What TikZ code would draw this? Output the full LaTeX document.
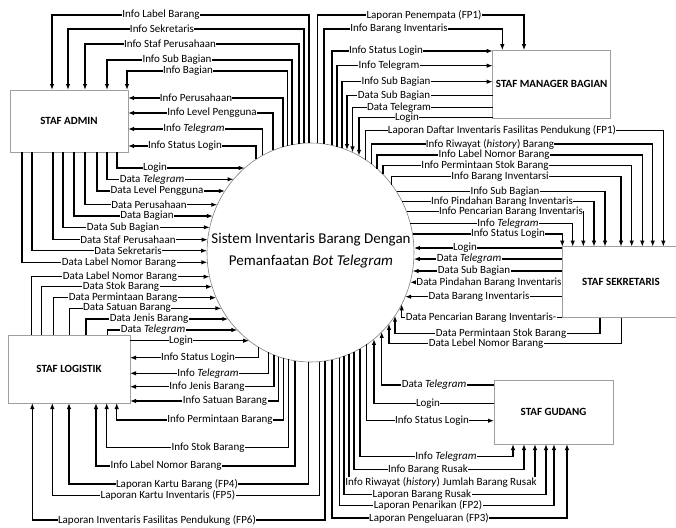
\documentclass[tikz,border=0pt]{standalone}
\usepackage{fontspec}
\setmainfont{Carlito}
\usetikzlibrary{arrows.meta,shapes.geometric}
\newcommand\lblfont{\fontsize{11}{12}\selectfont}
\newcommand\boxfont{\fontsize{11}{12}\selectfont\bfseries}
\newcommand\ttlfont{\fontsize{15}{22}\selectfont}
\begin{document}
\begin{tikzpicture}[x=1pt,y=-1pt,
  declare function={
    eyt(\x)=252.5-109.5*sqrt(1-((\x-310.5)/103.5)^2);
    eyb(\x)=252.5+109.5*sqrt(1-((\x-310.5)/103.5)^2);
    exl(\y)=310.5-103.5*sqrt(1-((\y-252.5)/109.5)^2);
    exr(\y)=310.5+103.5*sqrt(1-((\y-252.5)/109.5)^2);
  },
  ln/.style={line width=1.3pt,draw=black},
  arr/.style={ln,-{Latex[length=6pt,width=4.5pt]}},
  lbl/.style={fill=white,inner sep=0.4pt,font=\lblfont},
  box/.style={draw=gray!75,line width=0.7pt,rectangle,inner sep=0pt,outer sep=0pt,font=\boxfont,fill=white},
]
\useasboundingbox (0,0) rectangle (676,527);
\fill[white] (0,0) rectangle (676,527);

% process
\node[ellipse,draw=gray,line width=0.6pt,minimum width=207pt,minimum height=219pt,inner sep=0pt] (sys) at (310.5,252.5) {};
\node[align=center,font=\ttlfont] (title) at (311,251) {Sistem Inventaris Barang Dengan\\Pemanfaatan \textit{Bot Telegram}};

% external entities
\node[box,minimum width=118pt,minimum height=62pt] (admin) at (69,121) {STAF ADMIN};
\node[box,minimum width=122pt,minimum height=68pt] (logistik) at (69,369) {STAF LOGISTIK};
\node[box,minimum width=118pt,minimum height=68pt] (manager) at (551.7,84.2) {STAF MANAGER BAGIAN};
\node[box,minimum width=118pt,minimum height=71pt] (sekretaris) at (621,282.2) {STAF SEKRETARIS};
\node[box,minimum width=119pt,minimum height=64pt] (gudang) at (553.5,412) {STAF GUDANG};

% ---------- STAF ADMIN ----------
\draw[arr] (309,{eyt(309)}) |- (52,15) -- (52,0 |- admin.north) node[lbl] at (161,15) {Info Label Barang};
\draw[arr] (304,{eyt(304)}) |- (68,29) -- (68,0 |- admin.north) node[lbl] at (162,29) {Info Sekretaris};
\draw[arr] (299,{eyt(299)}) |- (85,44) -- (85,0 |- admin.north) node[lbl] at (170,44) {Info Staf Perusahaan};
\draw[arr] (292,{eyt(292)}) |- (107,60) -- (107,0 |- admin.north) node[lbl] at (177,60) {Info Sub Bagian};
\draw[arr] (287.5,{eyt(287.5)}) |- (127,71) -- (127,0 |- admin.north) node[lbl] at (188,71) {Info Bagian};

\draw[arr] (283,{eyt(283)}) |- (admin.east |- 0,98) node[lbl] at (196,98) {Info Perusahaan};
\draw[arr] (273,{eyt(273)}) |- (admin.east |- 0,113) node[lbl] at (212,113) {Info Level Pengguna};
\draw[arr] (262.5,{eyt(262.5)}) |- (admin.east |- 0,129) node[lbl] at (194,129) {Info \textit{Telegram}};
\draw[arr] (256,{eyt(256)}) |- (admin.east |- 0,146) node[lbl] at (185,146) {Info Status Login};

\draw[arr] (117,0 |- admin.south) |- ({exl(168)},168) node[lbl] at (155,168) {Login};
\draw[arr] (107,0 |- admin.south) |- ({exl(179.3)},179.3) node[lbl] at (152,179.3) {Data \textit{Telegram}};
\draw[arr] (97,0 |- admin.south) |- ({exl(191)},191) node[lbl] at (157,191) {Data Level Pengguna};
\draw[arr] (85,0 |- admin.south) |- ({exl(204.7)},204.7) node[lbl] at (149,204.7) {Data Perusahaan};
\draw[arr] (74,0 |- admin.south) |- ({exl(216)},216) node[lbl] at (147,216) {Data Bagian};
\draw[arr] (63,0 |- admin.south) |- ({exl(227.3)},227.3) node[lbl] at (123,227.3) {Data Sub Bagian};
\draw[arr] (53,0 |- admin.south) |- ({exl(239.7)},239.7) node[lbl] at (128,239.7) {Data Staf Perusahaan};
\draw[arr] (32,0 |- admin.south) |- ({exl(250.7)},250.7) node[lbl] at (128,250.7) {Data Sekretaris};
\draw[arr] (22,0 |- admin.south) |- ({exl(262.3)},262.3) node[lbl] at (119,262.3) {Data Label Nomor Barang};

% ---------- STAF LOGISTIK ----------
\draw[arr] (31.7,0 |- logistik.north) |- ({exl(276.7)},276.7) node[lbl] at (120,276.7) {Data Label Nomor Barang};
\draw[arr] (41.7,0 |- logistik.north) |- ({exl(286.7)},286.7) node[lbl] at (121,286.7) {Data Stok Barang};
\draw[arr] (53.3,0 |- logistik.north) |- ({exl(297.7)},297.7) node[lbl] at (123,297.7) {Data Permintaan Barang};
\draw[arr] (69.3,0 |- logistik.north) |- ({exl(308.3)},308.3) node[lbl] at (127,308.3) {Data Satuan Barang};
\draw[arr] (86,0 |- logistik.north) |- ({exl(319)},319) node[lbl] at (149,319) {Data Jenis Barang};
\draw[arr] (107.3,0 |- logistik.north) |- ({exl(330)},330) node[lbl] at (153,330) {Data \textit{Telegram}};
\draw[arr] (logistik.east |- 0,340.7) -- ({exl(340.7)},340.7) node[lbl] at (181,340.7) {Login};

\draw[arr] (258.3,{eyb(258.3)}) |- (logistik.east |- 0,357.7) node[lbl] at (198,357.7) {Info Status Login};
\draw[arr] (268.3,{eyb(268.3)}) |- (logistik.east |- 0,373.3) node[lbl] at (208,373.3) {Info \textit{Telegram}};
\draw[arr] (274,{eyb(274)}) |- (logistik.east |- 0,386.7) node[lbl] at (207,386.7) {Info Jenis Barang};
\draw[arr] (278.3,{eyb(278.3)}) |- (logistik.east |- 0,401) node[lbl] at (225,401) {Info Satuan Barang};

\draw[arr] (283.3,{eyb(283.3)}) |- (116.7,420) -- (116.7,0 |- logistik.south) node[lbl] at (220,420) {Info Permintaan Barang};
\draw[arr] (288.3,{eyb(288.3)}) |- (106.7,447.3) -- (106.7,0 |- logistik.south) node[lbl] at (208,447.3) {Info Stok Barang};
\draw[arr] (295,{eyb(295)}) |- (96,466) -- (96,0 |- logistik.south) node[lbl] at (166,466) {Info Label Nomor Barang};
\draw[arr] (308.3,{eyb(308.3)}) |- (69,484) -- (69,0 |- logistik.south) node[lbl] at (177,484) {Laporan Kartu Barang (FP4)};
\draw[arr] (319.5,{eyb(319.5)}) |- (52.3,495.7) -- (52.3,0 |- logistik.south) node[lbl] at (168,495.7) {Laporan Kartu Inventaris (FP5)};
\draw[arr] (325,{eyb(325)}) |- (32.3,520) -- (32.3,0 |- logistik.south) node[lbl] at (157,520) {Laporan Inventaris Fasilitas Pendukung (FP6)};

% ---------- STAF MANAGER BAGIAN ----------
\draw[arr] (317.3,{eyt(317.3)}) |- (524,15) -- (524,0 |- manager.north) node[lbl] at (424,15) {Laporan Penempata (FP1)};
\draw[arr] (324,{eyt(324)}) |- (502.3,29) -- (502.3,0 |- manager.north) node[lbl] at (399,29) {Info Barang Inventaris};
\draw[arr] (332,{eyt(332)}) |- (manager.west |- 0,51) node[lbl] at (386,51) {Info Status Login};
\draw[arr] (337,{eyt(337)}) |- (manager.west |- 0,65.7) node[lbl] at (389,65.7) {Info Telegram};
\draw[arr] (342,{eyt(342)}) |- (manager.west |- 0,81.7) node[lbl] at (396,81.7) {Info Sub Bagian};
\draw[arr] (manager.west |- 0,95.7) -| (347,{eyt(347)}) node[lbl] at (394,95.7) {Data Sub Bagian};
\draw[arr] (manager.west |- 0,107.5) -| (352.5,{eyt(352.5)}) node[lbl] at (399,107.5) {Data Telegram};
\draw[arr] (manager.west |- 0,117.8) -| (359,{eyt(359)}) node[lbl] at (407,117.8) {Login};

% ---------- STAF SEKRETARIS ----------
\draw[arr] (365.7,{eyt(365.7)}) |- (663.3,130.7) -- (663.3,0 |- sekretaris.north) node[lbl] at (502,130.7) {Laporan Daftar Inventaris Fasilitas Pendukung (FP1)};
\draw[arr] (371.7,{eyt(371.7)}) |- (652.7,144) -- (652.7,0 |- sekretaris.north) node[lbl] at (490,144) {Info Riwayat (\textit{history}) Barang};
\draw[arr] (377,{eyt(377)}) |- (642.3,155) -- (642.3,0 |- sekretaris.north) node[lbl] at (494,155) {Info Label Nomor Barang};
\draw[arr] (383,{eyt(383)}) |- (631.7,165.7) -- (631.7,0 |- sekretaris.north) node[lbl] at (485,165.7) {Info Permintaan Stok Barang};
\draw[arr] (391.7,{eyt(391.7)}) |- (621,176.5) -- (621,0 |- sekretaris.north) node[lbl] at (500,176.5) {Info Barang Inventarsi};
\draw[arr] ({exr(191.7)},191.7) -| (605,0 |- sekretaris.north) node[lbl] at (505,191.7) {Info Sub Bagian};
\draw[arr] ({exr(201.7)},201.7) -| (594,0 |- sekretaris.north) node[lbl] at (502,201.7) {Info Pindahan Barang Inventaris};
\draw[arr] ({exr(211.7)},211.7) -| (583.3,0 |- sekretaris.north) node[lbl] at (511,211.7) {Info Pencarian Barang Inventaris};
\draw[arr] ({exr(223.3)},223.3) -| (572.7,0 |- sekretaris.north) node[lbl] at (508,223.3) {Info \textit{Telegram}};
\draw[arr] ({exr(234)},234) -| (562.3,0 |- sekretaris.north) node[lbl] at (508,234) {Info Status Login};

\draw[arr] (sekretaris.west |- 0,248) -- ({exr(248)},248) node[lbl] at (465,248) {Login};
\draw[arr] (sekretaris.west |- 0,259) -- ({exr(259)},259) node[lbl] at (469,259) {Data \textit{Telegram}};
\draw[arr] (sekretaris.west |- 0,271) -- ({exr(271)},271) node[lbl] at (474,271) {Data Sub Bagian};
\draw[arr] (sekretaris.west |- 0,282.3) -- ({exr(282.3)},282.3) node[lbl] at (489,282.3) {Data Pindahan Barang Inventaris};
\draw[arr] (sekretaris.west |- 0,296.7) -- ({exr(296.7)},296.7) node[lbl] at (479,296.7) {Data Barang Inventaris};

\draw[arr] (sekretaris.south west) -| (401.7,{eyb(401.7)}) node[lbl] at (481,317.7) {Data Pencarian Barang Inventaris-};
\draw[arr] (600,0 |- sekretaris.south) |- (395,333.3) -- (395,{eyb(395)}) node[lbl] at (501,333.3) {Data Permintaan Stok Barang};
\draw[arr] (621.7,0 |- sekretaris.south) |- (389,343.3) -- (389,{eyb(389)}) node[lbl] at (486,343.3) {Data Lebel Nomor Barang};

% ---------- STAF GUDANG ----------
\draw[arr] (gudang.west |- 0,385) -| (381.7,{eyb(381.7)}) node[lbl] at (434,385) {Data \textit{Telegram}};
\draw[arr] (gudang.west |- 0,403.3) -| (374,{eyb(374)}) node[lbl] at (428,403.3) {Login};
\draw[arr] (366.7,{eyb(366.7)}) |- (gudang.west |- 0,420.7) node[lbl] at (432,420.7) {Info Status Login};
\draw[arr] (360,{eyb(360)}) |- (513,456.7) -- (513,0 |- gudang.south) node[lbl] at (446,456.7) {Info \textit{Telegram}};
\draw[arr] (354,{eyb(354)}) |- (524,469.3) -- (524,0 |- gudang.south) node[lbl] at (428,469.3) {Info Barang Rusak};
\draw[arr] (349,{eyb(349)}) |- (535,482.7) -- (535,0 |- gudang.south) node[lbl] at (441,482.7) {Info Riwayat (\textit{history}) Jumlah Barang Rusak};
\draw[arr] (344,{eyb(344)}) |- (546,494.3) -- (546,0 |- gudang.south) node[lbl] at (422,494.3) {Laporan Barang Rusak};
\draw[arr] (339.5,{eyb(339.5)}) |- (554,505.7) -- (554,0 |- gudang.south) node[lbl] at (428,505.7) {Laporan Penarikan (FP2)};
\draw[arr] (332,{eyb(332)}) |- (567,518) -- (567,0 |- gudang.south) node[lbl] at (429,518) {Laporan Pengeluaran (FP3)};
\end{tikzpicture}
\end{document}
